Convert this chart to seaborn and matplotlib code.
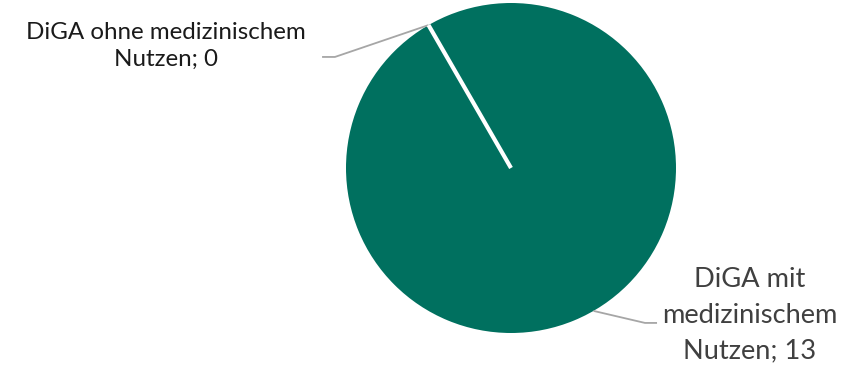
import numpy as np
import matplotlib
matplotlib.use("Agg")
import matplotlib.pyplot as plt
import seaborn as sns

# Number of DiGA by proven medical benefit
categories = ["DiGA ohne medizinischem\nNutzen", "DiGA mit\nmedizinischem\nNutzen"]
counts = [0, 13]
slice_colors = ["#00705F", "#00705F"]

sns.set_theme(style="white")
plt.rcParams["font.family"] = ["Lato", "DejaVu Sans"]

W, H = 849, 365
fig = plt.figure(figsize=(W / 100, H / 100), dpi=100)
cx, cy, r = 511, 168, 165
ax = fig.add_axes([(cx - r) / W, (H - cy - r) / H, 2 * r / W, 2 * r / H])

start = 120
wedges, _ = ax.pie(counts, colors=slice_colors, startangle=start, counterclock=False,
                   radius=1, wedgeprops=dict(linewidth=0))
for w, v in zip(wedges, counts):
    if v == 0:
        # an empty slice still shows as a white divider
        w.set_edgecolor("white")
        w.set_linewidth(3)
        w.set_zorder(5)
ax.set_xlim(-1, 1)
ax.set_ylim(-1, 1)
ax.set_aspect("equal")
ax.axis("off")

# slice mid angles, clockwise from the start angle
total = sum(counts)
cum = np.cumsum([0] + counts)
mids = [start - 360 * (cum[i] + counts[i] / 2) / total for i in range(len(counts))]

leader = "#A6A6A6"
label_cfg = [
    dict(knee=(-1.067, 0.673), end=(-1.145, 0.673), text=(-2.09, 0.74),
         color="#1A1A1A", size=17.4, spacing=1.35),
    dict(knee=(0.812, -0.939), end=(0.885, -0.939), text=(1.445, -0.891),
         color="#404040", size=19.6, spacing=1.53),
]
for cat, v, m, cfg in zip(categories, counts, mids, label_cfg):
    a = np.deg2rad(m)
    p = (np.cos(a), np.sin(a))
    ax.plot([p[0], cfg["knee"][0], cfg["end"][0]], [p[1], cfg["knee"][1], cfg["end"][1]],
            color=leader, lw=1.3, clip_on=False, zorder=1, solid_capstyle="butt")
    ax.text(cfg["text"][0], cfg["text"][1], f"{cat}; {v}", ha="center", va="center",
            multialignment="center", fontsize=cfg["size"], color=cfg["color"],
            linespacing=cfg["spacing"], clip_on=False)

fig.savefig("out.png", dpi=100)
